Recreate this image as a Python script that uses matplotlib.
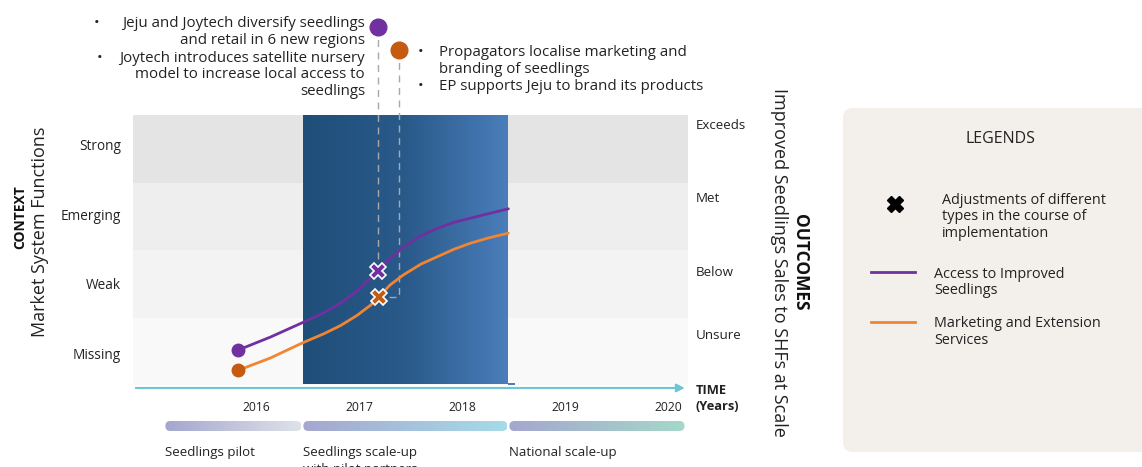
import matplotlib.pyplot as plt
import matplotlib.transforms as mtransforms
import numpy as np
from matplotlib.colors import LinearSegmentedColormap
from matplotlib.patches import FancyBboxPatch, Rectangle

plt.rcParams['font.family'] = ['Open Sans', 'DejaVu Sans']

W, H = 1142, 467

# Levels on both vertical scales
context_levels = ['Missing', 'Weak', 'Emerging', 'Strong']
context_pos = [0.46, 1.50, 2.53, 3.56]
outcome_levels = ['Unsure', 'Below', 'Met', 'Exceeds']
outcome_pos = [0.74, 1.66, 2.77, 3.85]
years = [2016, 2017, 2018, 2019, 2020]

# Trajectories (x in years, y in level units)
access_x = [2015.83, 2016.14, 2016.46, 2016.66, 2016.82, 2016.98, 2017.11, 2017.18, 2017.30,
            2017.43, 2017.60, 2017.76, 2017.92, 2018.08, 2018.26, 2018.45]
access_y = [0.52, 0.71, 0.93, 1.07, 1.21, 1.39, 1.58, 1.69, 1.87,
            2.04, 2.21, 2.32, 2.41, 2.47, 2.54, 2.61]
marketing_x = [2015.83, 2016.14, 2016.46, 2016.66, 2016.82, 2016.98, 2017.11, 2017.19, 2017.30,
               2017.43, 2017.60, 2017.76, 2017.92, 2018.08, 2018.26, 2018.45]
marketing_y = [0.22, 0.40, 0.63, 0.76, 0.88, 1.03, 1.18, 1.30, 1.48,
               1.63, 1.79, 1.90, 2.01, 2.10, 2.18, 2.25]

# Adjustment points and their callout anchors
adjust_x = [2017.18, 2017.19]
adjust_y = [1.69, 1.30]
callout_x = [2017.18, 2017.39]
callout_y = [5.30, 4.96]

# Implementation phases
phase_names = ['Seedlings pilot', 'Seedlings scale-up\nwith pilot partners', 'National scale-up']
phase_start = [2015.12, 2016.46, 2018.46]
phase_end = [2016.44, 2018.44, 2020.16]
focus_start, focus_end = 2016.46, 2018.45

PURPLE = '#7030A0'
ORANGE = '#F08533'
DARK_ORANGE = '#C55A11'
GUIDE = '#A8A8A8'
TXT = '#222222'

fig = plt.figure(figsize=(W / 100, H / 100), dpi=100)

# main panel
ax = fig.add_axes([133 / W, 1 - 385 / H, 555 / W, 270 / H])
band_colors = ['#F9F9F9', '#F3F3F3', '#EEEEEE', '#E4E4E4']
for i, c in enumerate(band_colors):
    ax.axhspan(i, i + 1, color=c, lw=0, zorder=0)

blue = LinearSegmentedColormap.from_list('blue', ['#1F4E79', '#2A5A8A', '#4A7EBB'])
grad = np.linspace(0, 1, 256).reshape(1, -1)
ax.imshow(grad, extent=[focus_start, focus_end, 0.015, 4], aspect='auto', cmap=blue, zorder=1)
ax.add_patch(Rectangle((focus_end, 0.004), 0.06, 0.03, color='#4A7EBB', lw=0, zorder=1))

# callout guides from the bullets down to the adjustments
ax.plot([callout_x[0], adjust_x[0]], [callout_y[0], adjust_y[0] + 0.1], ls=(0, (5, 4)),
        color=GUIDE, lw=1, clip_on=False, zorder=2)
ax.plot([callout_x[1], callout_x[1], adjust_x[1] + 0.08], [callout_y[1], adjust_y[1], adjust_y[1]],
        ls=(0, (5, 4)), color=GUIDE, lw=1, clip_on=False, zorder=2)
ax.plot(callout_x[0], callout_y[0], 'o', ms=12, color=PURPLE, clip_on=False, zorder=4)
ax.plot(callout_x[1], callout_y[1], 'o', ms=12, color=DARK_ORANGE, clip_on=False, zorder=4)

ax.plot(access_x, access_y, color=PURPLE, lw=2, zorder=3, solid_capstyle='round', solid_joinstyle='round')
ax.plot(marketing_x, marketing_y, color=ORANGE, lw=2, zorder=3, solid_capstyle='round', solid_joinstyle='round')
ax.plot(access_x[0], access_y[0], 'o', ms=9, color=PURPLE, zorder=4)
ax.plot(marketing_x[0], marketing_y[0], 'o', ms=9, color=DARK_ORANGE, zorder=4)
ax.plot(adjust_x[0], adjust_y[0], 'X', ms=12, mfc=PURPLE, mec='white', mew=1.2, zorder=5)
ax.plot(adjust_x[1], adjust_y[1], 'X', ms=12, mfc=DARK_ORANGE, mec='white', mew=1.2, zorder=5)

ax.set_xlim(2014.806, 2020.194)
ax.set_ylim(0, 4)
for s in ax.spines.values():
    s.set_visible(False)
ax.set_xticks([])
ax.set_yticks(context_pos, context_levels)
ax.tick_params(axis='y', length=0, pad=8.5, labelsize=9.8, labelcolor=TXT)

# time axis arrow and year labels
ax.annotate('', xy=(2020.19, -0.044), xytext=(2014.806, -0.044),
            arrowprops=dict(arrowstyle='-|>', color='#6FC5D3', lw=1.5, mutation_scale=12),
            annotation_clip=False)
for yr in years:
    ax.text(yr, -0.34, str(yr), ha='center', va='center', fontsize=8.7, color=TXT)

trans = mtransforms.blended_transform_factory(ax.transAxes, ax.transData)
for lab, pos in zip(outcome_levels, outcome_pos):
    ax.text(1 + 8 / 555, pos, lab, ha='left', va='center', fontsize=9.6, color=TXT, transform=trans)

# phase bars under the time axis
ax_t = fig.add_axes([133 / W, 1 - 436 / H, 555 / W, 20 / H])
ax_t.axis('off')
phase_colors = [('#A4A6CF', '#DEE2E8'), ('#A5A7CF', '#A6DBE8'), ('#A5A7CF', '#A4D8C9')]
px_per_year = 555 / (2020.194 - 2014.806)
for x0, x1, (c0, c1) in zip(phase_start, phase_end, phase_colors):
    clip = FancyBboxPatch((x0, 0.25), x1 - x0, 0.5, boxstyle='round,pad=0,rounding_size=0.0485',
                          mutation_aspect=px_per_year / 20, fc='none', ec='none')
    ax_t.add_patch(clip)
    cm = LinearSegmentedColormap.from_list('phase', [c0, c1])
    im = ax_t.imshow(grad, extent=[x0, x1, 0.25, 0.75], aspect='auto', cmap=cm)
    im.set_clip_path(clip)
ax_t.set_xlim(2014.806, 2020.194)
ax_t.set_ylim(0, 1)

# overlay in pixel units for annotations and the legend panel
ov = fig.add_axes([0, 0, 1, 1], zorder=-1)
ov.set_xlim(0, W)
ov.set_ylim(H, 0)
ov.axis('off')


def lines_at(x, y0, step, lines, fs, ha='left'):
    for i, line in enumerate(lines):
        ov.text(x, y0 + i * step, line, ha=ha, va='baseline', fontsize=fs, color=TXT)


for name, x0 in zip(phase_names, phase_start):
    xp = 133 + (x0 - 2014.806) * px_per_year
    lines_at(xp, 456, 16.5, name.split('\n'), 9.5)

ov.text(696, 394, 'TIME', fontsize=9.3, fontweight='bold', color=TXT, va='baseline')
ov.text(696, 410, '(Years)', fontsize=9.3, fontweight='bold', color=TXT, va='baseline')

# bullet notes above the panel
FS_NOTE = 10.8
lines_at(365, 27, 17.5, ['Jeju and Joytech diversify seedlings', 'and retail in 6 new regions'], FS_NOTE, ha='right')
lines_at(365, 62, 16.5, ['Joytech introduces satellite nursery', 'model to increase local access to',
                         'seedlings'], FS_NOTE, ha='right')
lines_at(439, 56, 17, ['Propagators localise marketing and', 'branding of seedlings',
                       'EP supports Jeju to brand its products'], FS_NOTE)
for bx, by in [(97, 27), (100, 62), (421, 56), (421, 90)]:
    ov.text(bx, by, '•', ha='center', va='baseline', fontsize=FS_NOTE, color=TXT)

ov.text(20, 217, 'CONTEXT', rotation=90, ha='center', va='center', fontsize=10, fontweight='bold', color='#111111')
ov.text(40, 232, 'Market System Functions', rotation=90, ha='center', va='center', fontsize=13, color=TXT)
ov.text(800, 262, 'OUTCOMES', rotation=-90, ha='center', va='center', fontsize=12.5, fontweight='bold', color='#111111')
ov.text(779, 262, 'Improved Seedlings Sales to SHFs at Scale', rotation=-90, ha='center', va='center',
        fontsize=13, color=TXT)

# legend panel
ov.add_patch(FancyBboxPatch((843, 108), 330, 344, boxstyle='round,pad=0,rounding_size=10',
                            fc='#F3F0EB', ec='none'))
ov.text(1000, 143, 'LEGENDS', ha='center', va='baseline', fontsize=11.5, color=TXT)
ov.plot(895, 204, marker='X', ms=11, color='black')
lines_at(942, 204, 16.5, ['Adjustments of different', 'types in the course of', 'implementation'], 10.4)
ov.plot([871, 915], [272, 272], color=PURPLE, lw=2)
lines_at(934, 278, 16.5, ['Access to Improved', 'Seedlings'], 10.4)
ov.plot([871, 915], [322, 322], color=ORANGE, lw=2)
lines_at(934, 327, 16.5, ['Marketing and Extension', 'Services'], 10.4)

fig.savefig('out.png', dpi=100)
